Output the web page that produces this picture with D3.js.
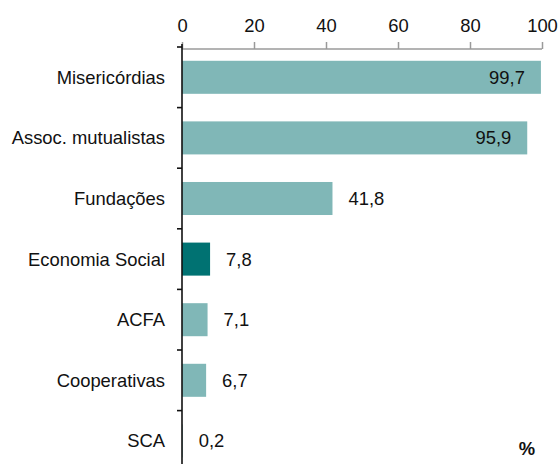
<!DOCTYPE html>
<html><head><meta charset="utf-8">
<script src="https://cdn.jsdelivr.net/npm/d3@7"></script>
<style>html,body{margin:0;padding:0;background:#fff}svg{display:block}</style>
</head><body>
<svg id="c" width="560" height="464"></svg>
<script>
const categories = ["Misericórdias","Assoc. mutualistas","Fundações","Economia Social","ACFA","Cooperativas","SCA"];
const values = [99.7, 95.9, 41.8, 7.8, 7.1, 6.7, 0.2];
const highlight = ["Economia Social"];
const xTicks = [0, 20, 40, 60, 80, 100];
const unitLabel = "%";

const svg = d3.select("#c");
const font = "'Liberation Sans', Arial, sans-serif";
const fs = 18.4;
const x = d3.scaleLinear().domain([0, 100]).range([182, 542]);
const y = d3.scaleBand().domain(categories).range([47, 471.2]).paddingInner(0.455).paddingOuter(0.2275);
const fmt = v => String(v.toFixed(1)).replace(".", ",");

// bars
svg.selectAll("rect.bar").data(categories).join("rect")
  .attr("class","bar")
  .attr("x", x(0))
  .attr("y", d => y(d))
  .attr("width", (d,i) => x(values[i]) - x(0))
  .attr("height", y.bandwidth())
  .attr("fill", d => highlight.includes(d) ? "#007272" : "#80b7b7");

// top axis
const xAxis = d3.axisTop(x).tickValues(xTicks).tickSize(7).tickPadding(10).tickFormat(d3.format("d"));
const gx = svg.append("g").attr("transform","translate(0,49)").call(xAxis);
gx.select(".domain").attr("stroke","#9a9a9a").attr("stroke-width",1.5).attr("d", `M${x(0)},0H${x(100)}`);
gx.selectAll(".tick line").attr("stroke","#9a9a9a").attr("stroke-width",1.5);
gx.selectAll(".tick text").attr("font-family",font).attr("font-size",fs).attr("fill","#111");

// left axis line and boundary ticks
const step = y.step();
const top0 = y.range()[0];
svg.append("line").attr("x1",x(0)).attr("x2",x(0)).attr("y1",top0-3).attr("y2",464)
  .attr("stroke","#111").attr("stroke-width",1.6);
const bounds = d3.range(categories.length + 1).map(k => top0 + k*step);
svg.selectAll("line.yt").data(bounds).join("line").attr("class","yt")
  .attr("x1", x(0)-5).attr("x2", x(0)).attr("y1", d=>d).attr("y2", d=>d)
  .attr("stroke","#111").attr("stroke-width",1.6);

// category labels
svg.selectAll("text.cat").data(categories).join("text").attr("class","cat")
  .attr("x", 165).attr("y", d => y(d) + y.bandwidth()/2).attr("dy","0.35em")
  .attr("text-anchor","end").attr("font-family",font).attr("font-size",fs).attr("fill","#111")
  .text(d => d);

// value labels
svg.selectAll("text.val").data(categories).join("text").attr("class","val")
  .attr("x", (d,i) => values[i] > 90 ? x(values[i]) - 16 : x(values[i]) + 16)
  .attr("y", d => y(d) + y.bandwidth()/2).attr("dy","0.35em")
  .attr("text-anchor", (d,i) => values[i] > 90 ? "end" : "start")
  .attr("font-family",font).attr("font-size",fs).attr("fill","#111")
  .text((d,i) => fmt(values[i]));

// unit
svg.append("text").attr("x",527).attr("y",455).attr("text-anchor","middle")
  .attr("font-family",font).attr("font-size",fs).attr("font-weight","bold").attr("fill","#111")
  .text(unitLabel);
</script>
</body></html>
